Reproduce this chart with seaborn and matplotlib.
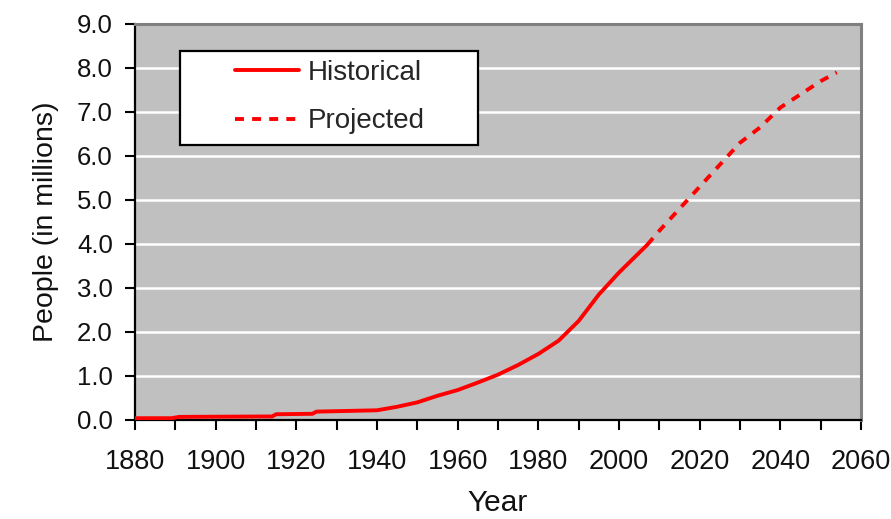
import matplotlib
matplotlib.use("Agg")
import matplotlib.pyplot as plt
import seaborn as sns
import pandas as pd
from matplotlib.patches import Rectangle
from matplotlib.ticker import MultipleLocator, FormatStrFormatter

# Data (population in millions)
hist_years = [1880, 1889, 1891, 1914, 1915, 1924, 1925, 1940, 1945, 1950, 1955, 1960,
              1965, 1970, 1975, 1980, 1985, 1990, 1995, 2000, 2005, 2007]
hist_values = [0.04, 0.04, 0.07, 0.08, 0.13, 0.14, 0.19, 0.22, 0.30, 0.40, 0.55, 0.68,
               0.85, 1.03, 1.25, 1.50, 1.80, 2.25, 2.85, 3.35, 3.80, 3.98]
proj_years = [2007, 2010, 2015, 2020, 2025, 2030, 2035, 2040, 2045, 2050, 2054]
proj_values = [3.98, 4.30, 4.80, 5.30, 5.80, 6.30, 6.65, 7.10, 7.40, 7.70, 7.90]
series_labels = ["Historical", "Projected"]
x_label = "Year"
y_label = "People (in millions)"

hist_df = pd.DataFrame({"Year": hist_years, "Value": hist_values})
proj_df = pd.DataFrame({"Year": proj_years, "Value": proj_values})

sns.set_theme(style="white")
plt.rcParams["font.family"] = ["Liberation Sans", "DejaVu Sans"]

fig = plt.figure(figsize=(8.91, 5.19), dpi=100)
ax = fig.add_axes([0.1515, 0.1908, 0.8148, 0.763])
ax.set_facecolor("#C0C0C0")

sns.lineplot(data=hist_df, x="Year", y="Value", color="#FF0000", lw=2.8, ax=ax,
             label=series_labels[0], zorder=3)
sns.lineplot(data=proj_df, x="Year", y="Value", color="#FF0000", lw=2.8,
             linestyle=(0, (2.3, 2.1)), ax=ax, label=series_labels[1], zorder=3)

ax.set_xlim(1880, 2060)
ax.set_ylim(0, 9)
ax.xaxis.set_major_locator(MultipleLocator(20))
ax.xaxis.set_minor_locator(MultipleLocator(10))
ax.yaxis.set_major_locator(MultipleLocator(1))
ax.yaxis.set_major_formatter(FormatStrFormatter("%.1f"))

ax.tick_params(which="both", bottom=True, left=True, direction="out",
               length=7, width=1.5, color="black")
ax.tick_params(axis="x", labelsize=19.5, pad=14, labelcolor="#111111")
ax.tick_params(axis="y", labelsize=18.5, pad=9, labelcolor="#111111")

ax.yaxis.grid(True, color="white", lw=1.8)
ax.xaxis.grid(False)
ax.set_axisbelow(True)

for side in ["left", "bottom"]:
    ax.spines[side].set_color("black")
    ax.spines[side].set_linewidth(1.6)
for side in ["top", "right"]:
    ax.spines[side].set_color("#808080")
    ax.spines[side].set_linewidth(2.2)

ax.set_xlabel(x_label, fontsize=21.5, color="#111111", labelpad=10)
ax.set_ylabel(y_label, fontsize=20.5, color="#111111", labelpad=13)

# legend box
box = Rectangle((0.062, 0.694), 0.4105, 0.237, transform=ax.transAxes,
                facecolor="white", edgecolor="black", lw=1.6, zorder=4)
ax.add_patch(box)
leg = ax.legend(loc="center left", bbox_to_anchor=(0.119, 0.815), frameon=False,
                borderpad=0, handlelength=2.3, handletextpad=0.3,
                labelspacing=0.8, fontsize=20)
leg.set_zorder(5)

fig.savefig("out.png", dpi=100)
